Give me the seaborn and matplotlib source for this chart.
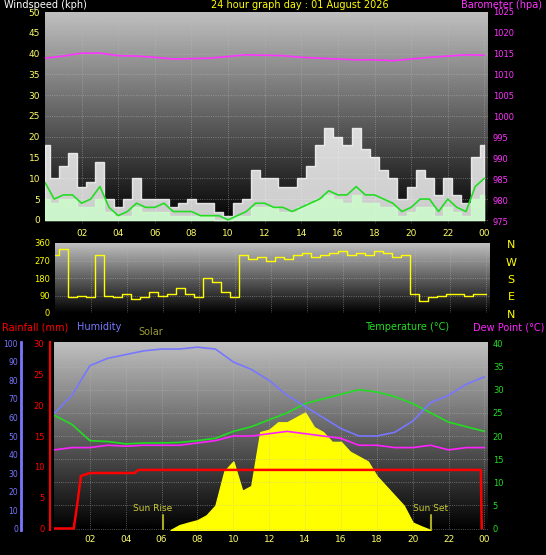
import numpy as np
import matplotlib
matplotlib.use("Agg")
import matplotlib.pyplot as plt
import seaborn as sns

sns.set_style("dark")
plt.rcParams['font.family'] = ['DejaVu Sans']

# ---- data ----
t_half = [i * 0.5 for i in range(49)]
gust = [18,10,13,16,8,9,14,5,3,5,10,5,5,5,3,4,5,4,4,2,1,4,5,12,10,10,8,8,10,13,18,22,20,18,22,17,15,12,10,5,8,12,10,6,10,6,4,15,18]
wind_avg = [5,4,5,5,3,3,5,2,1,1,3,2,2,2,1,1,1,1,1,0,0,1,1,3,3,3,2,2,3,4,5,6,5,4,6,4,4,3,3,1,2,3,3,1,3,2,1,5,6]
wind_line = [9,5,6,6,4,5,8,3,1,2,4,3,3,4,2,2,2,1,1,1,0,1,2,4,4,3,3,2,3,4,5,7,6,6,8,6,6,5,4,2,3,5,5,2,5,3,2,8,10]
direction = [300,330,80,90,80,300,90,80,100,70,80,110,90,100,130,100,80,180,160,110,80,300,280,290,270,290,280,300,310,290,300,310,320,300,310,300,320,310,290,300,100,60,80,90,100,100,90,100,100]
t_hour = list(range(25))
baro = [1014.0,1014.5,1015.2,1015.2,1014.6,1014.5,1014.2,1013.8,1013.9,1014.0,1014.4,1014.8,1014.7,1014.6,1014.2,1014.0,1013.8,1013.6,1013.6,1013.4,1013.8,1014.2,1014.5,1014.8,1014.7]
humidity = [62,72,88,92,94,96,97,97,98,97,90,86,80,72,66,60,54,50,50,52,58,68,72,78,82]
temperature = [24.5,22.5,19,18.8,18.3,18.5,18.5,18.6,19,19.5,21,22,23.5,25,27,28,29,30,29.5,28.5,27,25,23,22,21]
dewpoint = [17,17.5,17.5,18,17.8,18,18,18,18.5,19,20,20,20.5,21,20.5,20,19.5,18,18,17.5,17.5,18,17,17.5,17.5]
rain_t = [0.0,1.1,1.3,1.5,2.0,4.5,4.7,23.8,23.85]
rain_v = [0.0,0.0,4.0,8.5,9.0,9.0,9.5,9.5,0.0]
solar_t = [6.5,7,7.5,8,8.5,9,9.5,10,10.5,11,11.5,12,12.5,13,13.5,14,14.5,15,15.5,16,16.5,17,17.5,18,18.5,19,19.5,20,20.5,21]
solar_v = [0,25,38,50,75,125,300,350,200,225,500,512,550,550,575,600,525,500,450,450,400,375,350,275,225,175,125,38,18,0]
xticks = [2,4,6,8,10,12,14,16,18,20,22,24]
xlabels = ["02","04","06","08","10","12","14","16","18","20","22","00"]

W, H = 546, 555
fig = plt.figure(figsize=(W/100, H/100), dpi=100, facecolor='black')
def box(l, t, r, b):
    return [l/W, 1-b/H, (r-l)/W, (b-t)/H]

def bg(ax, grid=True):
    grad = np.linspace(0.75, 0.0, 256).reshape(-1, 1)
    ax.imshow(grad, extent=[0, 1, 0, 1], transform=ax.transAxes, aspect='auto',
              cmap='gray', vmin=0, vmax=1, zorder=0)
    ax.grid(grid, color='#bbbbbb', linestyle=':', linewidth=0.6, alpha=0.6)
    ax.set_facecolor('black')
    for s in ax.spines.values():
        s.set_visible(False)

def clear(ax):
    ax.patch.set_visible(False)
    for s in ax.spines.values():
        s.set_visible(False)

yel = '#ffff66'

# ---- top panel ----
ax1 = fig.add_axes(box(45, 12, 488, 224))
bg(ax1)
ax1.fill_between(t_half, gust, color='white', alpha=0.8, step='mid', zorder=2)
ax1.fill_between(t_half, wind_avg, color='#ccffcc', alpha=0.8, step='mid', zorder=3)
sns.lineplot(x=t_half, y=wind_line, ax=ax1, color='#22dd22', lw=1.2, zorder=4)
ax1.set_xlim(0, 24.2); ax1.set_ylim(-1, 50)
ax1.set_yticks(range(0, 51, 5))
ax1.set_xticks(xticks); ax1.set_xticklabels(xlabels)
ax1.tick_params(colors=yel, labelsize=6.5, length=0)
ax1b = ax1.twinx()
ax1b.plot(t_hour, baro, color='#ff33ff', lw=1.2)
ax1b.set_ylim(974.5, 1025)
ax1b.set_yticks(range(975, 1026, 5))
ax1b.tick_params(colors='#ff33ff', labelsize=6, length=0)
for s in ax1b.spines.values(): s.set_visible(False)
fig.text(4/W, 1-5/H, "Windspeed (kph)", color='white', fontsize=7, va='center')
fig.text(300/W, 1-5/H, "24 hour graph day : 01 August 2026", color='yellow', fontsize=7, va='center', ha='center')
fig.text(542/W, 1-5/H, "Barometer (hpa)", color='#ff33ff', fontsize=7, va='center', ha='right')

# ---- middle panel ----
ax2 = fig.add_axes(box(55, 243, 490, 313))
bg(ax2)
sns.lineplot(x=t_half, y=direction, ax=ax2, color='yellow', lw=1, drawstyle='steps-mid')
ax2.set_xlim(0, 24.2); ax2.set_ylim(0, 360)
ax2.set_yticks([0, 90, 180, 270, 360])
ax2.set_xticks(xticks); ax2.set_xticklabels([])
ax2.tick_params(colors='yellow', labelsize=6, length=0)
for i, lab in enumerate(["N", "W", "S", "E", "N"]):
    fig.text(511/W, 1-(245+i*17.5)/H, lab, color='yellow', fontsize=8, ha='center', va='center')

# ---- bottom panel ----
pos = box(54, 342, 488, 530)
axbg = fig.add_axes(pos, zorder=0)
bg(axbg, grid=False)
axbg.set_xticks([]); axbg.set_yticks([])

axs = fig.add_axes(pos, zorder=1); clear(axs)
axs.fill_between(solar_t, solar_v, color='yellow')
axs.set_xlim(0, 24.2); axs.set_ylim(0, 960); axs.axis('off')

ax3 = fig.add_axes(pos, zorder=2); clear(ax3)
ax3.grid(True, color='#bbbbbb', linestyle=':', linewidth=0.6, alpha=0.6)
sns.lineplot(x=t_hour, y=temperature, ax=ax3, color='#22dd22', lw=1.2)
sns.lineplot(x=t_hour, y=dewpoint, ax=ax3, color='#ff22ff', lw=1.2)
ax3.set_xlim(0, 24.2); ax3.set_ylim(-0.3, 40.3)
ax3.yaxis.tick_right()
ax3.set_yticks(range(0, 41, 5))
ax3.set_xticks(xticks); ax3.set_xticklabels(xlabels)
ax3.tick_params(axis='y', colors='#22dd22', labelsize=6, length=0)
ax3.tick_params(axis='x', colors=yel, labelsize=6.5, length=0)
ax3.axvline(6.1, ymax=0.08, color='#aaaa22', lw=1.5)
ax3.axvline(21.0, ymax=0.08, color='#aaaa22', lw=1.5)
ax3.text(5.5, 3.8, "Sun Rise", color='#cccc33', fontsize=6.5, ha='center')
ax3.text(21.0, 3.8, "Sun Set", color='#cccc33', fontsize=6.5, ha='center')

axh = fig.add_axes(pos, zorder=3); clear(axh)
axh.plot(t_hour, humidity, color='#7777ff', lw=1.2)
axh.set_xlim(0, 24.2); axh.set_ylim(-0.8, 100.8); axh.set_xticks([])
axh.set_yticks(range(0, 101, 10))
axh.tick_params(axis='y', colors='#7777ff', labelsize=5.5, length=0, pad=2)
axh.spines['left'].set_visible(True); axh.spines['left'].set_position(('outward', 24))
axh.spines['left'].set_color('#7777ff'); axh.spines['left'].set_linewidth(2)

axr = fig.add_axes(pos, zorder=4); clear(axr)
axr.plot(rain_t, rain_v, color='red', lw=1.8)
axr.set_xlim(0, 24.2); axr.set_ylim(-0.25, 30.25); axr.set_xticks([])
axr.set_yticks(range(0, 31, 5))
axr.tick_params(axis='y', colors='red', labelsize=6, length=0, pad=4)
axr.spines['left'].set_visible(True); axr.spines['left'].set_position(('outward', 3))
axr.spines['left'].set_color('red'); axr.spines['left'].set_linewidth(1.5)

fig.text(2/W, 1-327/H, "Rainfall (mm)", color='red', fontsize=7, va='center')
fig.text(77/W, 1-327/H, "Humidity", color='#7777ff', fontsize=7, va='center')
fig.text(138/W, 1-332/H, "Solar", color='#999933', fontsize=7, va='center')
fig.text(365/W, 1-327/H, "Temperature (°C)", color='#22dd22', fontsize=7, va='center')
fig.text(544/W, 1-327/H, "Dew Point (°C)", color='#ff22ff', fontsize=7, va='center', ha='right')

fig.savefig("out.png", dpi=100, facecolor='black')
